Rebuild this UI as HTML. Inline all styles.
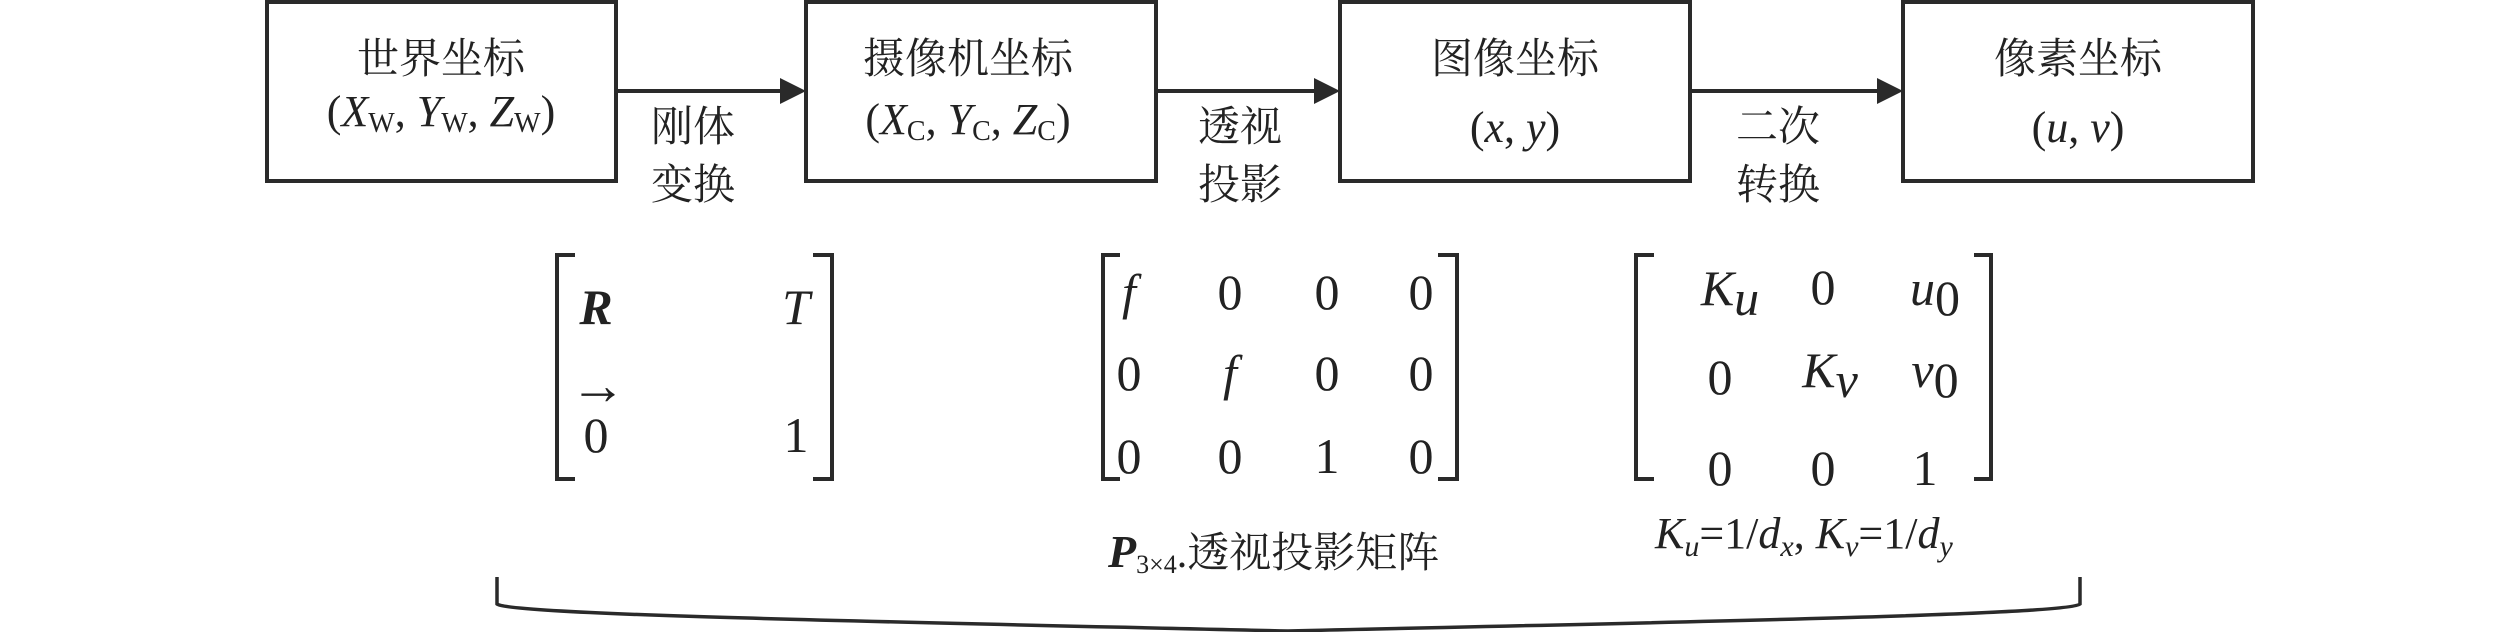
<!DOCTYPE html>
<html><head><meta charset="utf-8"><style>
html,body{margin:0;padding:0;background:#fff;}
svg{display:block;}
.cn{font-family:"Liberation Serif","Noto Serif CJK SC",serif;font-size:42px;fill:#222;}
.m{font-family:"Liberation Serif",serif;font-size:50px;fill:#222;}
.i{font-style:italic;}
</style></head><body>
<svg width="2520" height="632" viewBox="0 0 2520 632" xmlns="http://www.w3.org/2000/svg">
<g fill="none" stroke="#2a2a2a" stroke-width="4">
<rect x="267" y="2" width="349" height="179"/>
<rect x="806" y="2" width="350" height="179"/>
<rect x="1340" y="2" width="350" height="179"/>
<rect x="1903" y="2" width="350" height="179"/>
<line x1="616" y1="91" x2="782" y2="91"/>
<line x1="1156" y1="91" x2="1316" y2="91"/>
<line x1="1690" y1="91" x2="1879" y2="91"/>
<path d="M575,255 H557 V479 H575 M813,255 H832 V479 H813"/>
<path d="M1120,255 H1103 V479 H1120 M1438,255 H1457 V479 H1438"/>
<path d="M1654,255 H1636 V479 H1654 M1974,255 H1991 V479 H1974"/>
<path d="M497,577 V604 C510,615 900,622 1288,631 C1680,622 2068,615 2080,604 V577" stroke-width="3.5"/>
</g>
<g fill="#2a2a2a">
<polygon points="780,78 806,91 780,104"/>
<polygon points="1314,78 1340,91 1314,104"/>
<polygon points="1877,78 1903,91 1877,104"/>
</g>
<g class="cn" text-anchor="middle">
<text x="441" y="73">世界坐标</text>
<text x="968" y="73">摄像机坐标</text>
<text x="1515" y="73">图像坐标</text>
<text x="2078" y="73">像素坐标</text>
<text x="693" y="141">刚体</text>
<text x="693" y="199">变换</text>
<text x="1240" y="141">透视</text>
<text x="1240" y="199">投影</text>
<text x="1778" y="141">二次</text>
<text x="1778" y="199">转换</text>
</g>
<g class="m" text-anchor="middle" style="font-size:44px">
<text x="441" y="126">(<tspan class="i">X</tspan><tspan font-size="28" dy="6">W</tspan><tspan dy="-6">, </tspan><tspan class="i">Y</tspan><tspan font-size="28" dy="6">W</tspan><tspan dy="-6">, </tspan><tspan class="i">Z</tspan><tspan font-size="28" dy="6">W</tspan><tspan dy="-6">)</tspan></text>
<text x="968" y="134">(<tspan class="i">X</tspan><tspan font-size="28" dy="6">C</tspan><tspan dy="-6">, </tspan><tspan class="i">Y</tspan><tspan font-size="28" dy="6">C</tspan><tspan dy="-6">, </tspan><tspan class="i">Z</tspan><tspan font-size="28" dy="6">C</tspan><tspan dy="-6">)</tspan></text>
<text x="1515" y="142">(<tspan class="i">x</tspan>, <tspan class="i">y</tspan>)</text>
<text x="2078" y="142">(<tspan class="i">u</tspan>, <tspan class="i">v</tspan>)</text>
</g>
<g class="m" text-anchor="middle">
<text x="596" y="324" font-weight="bold" class="i">R</text>
<text x="796" y="324" class="i">T</text>
<text x="598" y="404" font-size="56">→</text>
<text x="596" y="452">0</text>
<text x="796" y="452">1</text>
<text x="1129" y="309" class="i">f</text><text x="1230" y="309">0</text><text x="1327" y="309">0</text><text x="1421" y="309">0</text>
<text x="1129" y="390">0</text><text x="1230" y="390" class="i">f</text><text x="1327" y="390">0</text><text x="1421" y="390">0</text>
<text x="1129" y="473">0</text><text x="1230" y="473">0</text><text x="1327" y="473">1</text><text x="1421" y="473">0</text>
<text x="1730" y="305"><tspan class="i">K</tspan><tspan class="i" dy="10">u</tspan></text>
<text x="1823" y="304">0</text>
<text x="1935" y="305"><tspan class="i">u</tspan><tspan dy="10">0</tspan></text>
<text x="1720" y="394">0</text>
<text x="1830" y="387"><tspan class="i">K</tspan><tspan class="i" dy="10">v</tspan></text>
<text x="1935" y="387"><tspan class="i">v</tspan><tspan dy="10">0</tspan></text>
<text x="1720" y="485">0</text><text x="1823" y="485">0</text><text x="1925" y="485">1</text>
</g>
<text x="1108" y="567" class="cn"><tspan font-family="Liberation Serif" font-weight="bold" font-style="italic" font-size="46">P</tspan><tspan font-family="Liberation Serif" font-size="26" dy="6">3×4</tspan><tspan dy="-6">.透视投影矩阵</tspan></text>
<text x="1655" y="548" class="m" style="font-size:44px"><tspan class="i">K</tspan><tspan class="i" font-size="30" dy="8">u</tspan><tspan dy="-8">=1/</tspan><tspan class="i">d</tspan><tspan class="i" font-size="30" dy="8">x</tspan><tspan dy="-8">, </tspan><tspan class="i">K</tspan><tspan class="i" font-size="30" dy="8">v</tspan><tspan dy="-8">=1/</tspan><tspan class="i">d</tspan><tspan class="i" font-size="30" dy="8">y</tspan></text>
</svg>
</body></html>
